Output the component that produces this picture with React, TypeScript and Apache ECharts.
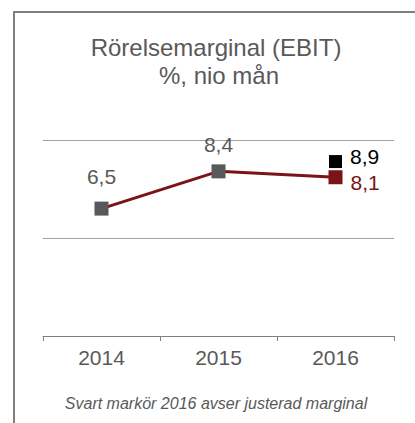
import React, { useEffect, useRef } from "react";
import * as echarts from "echarts";

const categories = ["2014", "2015", "2016"];
const marginValues = [6.5, 8.4, 8.1];
const adjustedValues: (number | string)[] = ["-", "-", 8.9];
const titleLines = ["Rörelsemarginal (EBIT)", "%, nio mån"];
const footnote = "Svart markör 2016 avser justerad marginal";

const RED = "#7B1419";
const GREY = "#595959";
const FONT = "Liberation Sans, Arial, sans-serif";

const fmt = (p: any) => String(p.value).replace(".", ",");

export default function App() {
  const ref = useRef<HTMLDivElement>(null);
  useEffect(() => {
    if (!ref.current) return;
    const chart = echarts.init(ref.current, undefined, { renderer: "svg" });
    chart.setOption({
      animation: false,
      grid: { left: 43, right: 21, top: 140, bottom: 87 },
      graphic: [
        { type: "line", shape: { x1: 14, y1: 12, x2: 14, y2: 423 }, style: { stroke: "#7f7f7f", lineWidth: 2 } },
        { type: "line", shape: { x1: 13, y1: 12, x2: 415, y2: 12 }, style: { stroke: "#7f7f7f", lineWidth: 2 } },
        {
          type: "text", x: 216, y: 47,
          style: { text: titleLines[0], fill: GREY, font: `24px ${FONT}`, textAlign: "center", textVerticalAlign: "middle" },
        },
        {
          type: "text", x: 219, y: 75,
          style: { text: titleLines[1], fill: GREY, font: `24px ${FONT}`, textAlign: "center", textVerticalAlign: "middle" },
        },
        {
          type: "text", x: 216, y: 403,
          style: { text: footnote, fill: GREY, font: `italic 16px ${FONT}`, textAlign: "center", textVerticalAlign: "middle" },
        },
      ],
      xAxis: {
        type: "category",
        data: categories,
        boundaryGap: true,
        axisLine: { lineStyle: { color: "#808080", width: 1 } },
        axisTick: { show: true, length: 5, lineStyle: { color: "#808080" } },
        axisLabel: { color: GREY, fontSize: 21, fontFamily: FONT, margin: 11 },
        splitLine: { show: false },
      },
      yAxis: {
        type: "value",
        min: 0,
        max: 10,
        interval: 5,
        axisLine: { show: false },
        axisTick: { show: false },
        axisLabel: { show: false },
        splitLine: { lineStyle: { color: "#a0a0a0", width: 1 } },
      },
      series: [
        {
          type: "line",
          data: marginValues.map((v, i) => ({
            value: v,
            itemStyle: { color: i === 2 ? RED : GREY },
            label:
              i === 2
                ? { position: "right", distance: 8, color: RED, offset: [0, 5] }
                : { position: "top", distance: i === 0 ? 15 : 9, color: GREY },
          })),
          symbol: "rect",
          symbolSize: 14,
          lineStyle: { color: RED, width: 3 },
          label: { show: true, fontSize: 21, fontFamily: FONT, formatter: fmt },
          z: 3,
        },
        {
          type: "line",
          data: adjustedValues,
          symbol: "rect",
          symbolSize: 13,
          showSymbol: true,
          lineStyle: { width: 0 },
          itemStyle: { color: "#000000" },
          label: {
            show: true, position: "right", distance: 8, offset: [0, -5],
            color: "#000000", fontSize: 21, fontFamily: FONT, formatter: fmt,
          },
          z: 4,
        },
      ],
    });
    return () => chart.dispose();
  }, []);
  return <div ref={ref} style={{ width: 415, height: 423, position: "absolute", left: 0, top: 0 }} />;
}
